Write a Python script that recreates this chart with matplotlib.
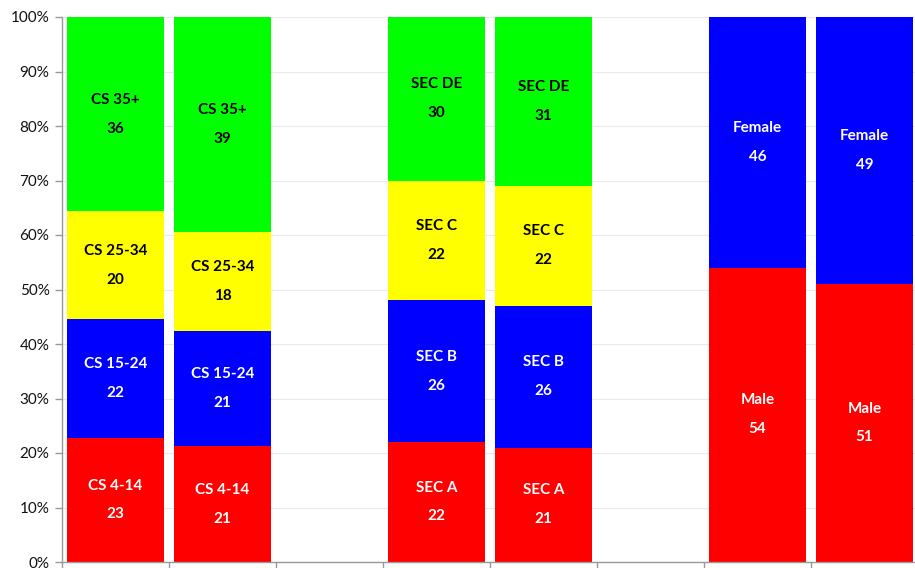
import matplotlib
matplotlib.use("Agg")
import matplotlib.pyplot as plt
from matplotlib.ticker import FuncFormatter, FixedLocator

# ---- data ----
age_labels = ["CS 4-14", "CS 15-24", "CS 25-34", "CS 35+"]
age_bar1 = [23, 22, 20, 36]
age_bar2 = [21, 21, 18, 39]
sec_labels = ["SEC A", "SEC B", "SEC C", "SEC DE"]
sec_bar1 = [22, 26, 22, 30]
sec_bar2 = [21, 26, 22, 31]
gender_labels = ["Male", "Female"]
gender_bar1 = [54, 46]
gender_bar2 = [51, 49]
slot_positions = [0, 1, 3, 4, 6, 7]

four_colors = ["#FF0000", "#0000FF", "#FFFF00", "#00FF00"]
four_text = ["white", "white", "black", "black"]
two_colors = ["#FF0000", "#0000FF"]
two_text = ["white", "white"]

bars = [
    (age_labels, age_bar1, four_colors, four_text),
    (age_labels, age_bar2, four_colors, four_text),
    (sec_labels, sec_bar1, four_colors, four_text),
    (sec_labels, sec_bar2, four_colors, four_text),
    (gender_labels, gender_bar1, two_colors, two_text),
    (gender_labels, gender_bar2, two_colors, two_text),
]

plt.rcParams['font.family'] = ['Lato', 'DejaVu Sans']

fig = plt.figure(figsize=(9.15, 5.68), dpi=100)
ax = fig.add_axes([62/915, 6/568, 856/915, 545/568])

width = 0.9
for pos, (labels, vals, cols, tcols) in zip(slot_positions, bars):
    total = float(sum(vals))
    bottom = 0.0
    for lab, v, c, tc in zip(labels, vals, cols, tcols):
        h = v / total
        ax.bar(pos, h, width=width, bottom=bottom, color=c, edgecolor='none', zorder=2)
        ax.text(pos, bottom + h / 2, f"{lab}\n{v}", ha='center', va='center',
                color=tc, fontsize=11, fontweight='bold', linespacing=2.35, zorder=3)
        bottom += h

ax.set_xlim(-0.5, 7.5)
ax.set_ylim(0, 1)
ax.yaxis.set_major_locator(FixedLocator([i / 10 for i in range(11)]))
ax.yaxis.set_major_formatter(FuncFormatter(lambda y, _: f"{int(round(y*100))}%"))
ax.xaxis.set_major_locator(FixedLocator([i - 0.5 for i in range(9)]))
ax.set_xticklabels([])
ax.grid(axis='y', color='#f2e6ee', linewidth=0.8, zorder=0)
ax.set_axisbelow(True)

for s in ['top', 'right']:
    ax.spines[s].set_visible(False)
for s in ['left', 'bottom']:
    ax.spines[s].set_color('#999999')
    ax.spines[s].set_linewidth(1.0)
ax.tick_params(axis='both', direction='out', length=5, color='#999999', width=1.0)
ax.tick_params(axis='y', labelsize=11, labelcolor='#111111', pad=4)

fig.savefig("out.png", dpi=100)
